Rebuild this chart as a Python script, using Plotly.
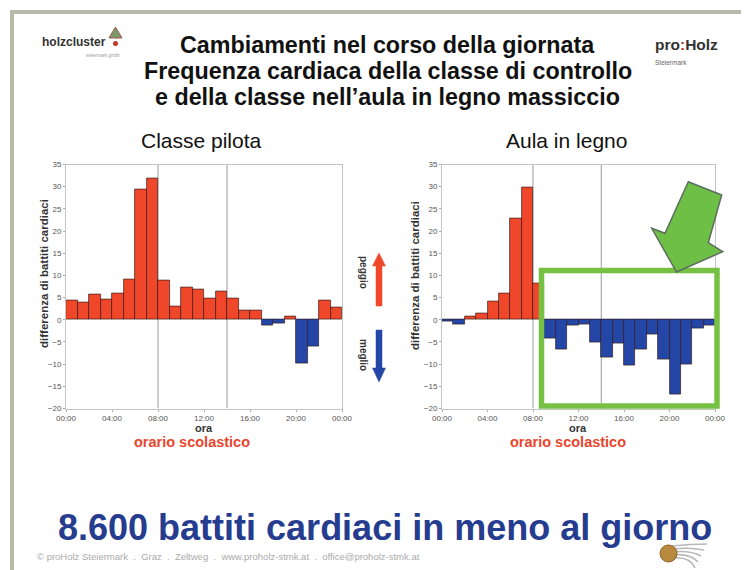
import plotly.graph_objects as go

# The page body has an 8px margin, so the figure is sized to fit inside it
OFF = 8
W, H = 749 - OFF, 570 - OFF

hours = list(range(24))
pilota = [4.3, 3.9, 5.7, 4.6, 6.0, 9.1, 29.3, 31.8, 8.8, 3.0, 7.2, 6.9,
          4.8, 6.3, 4.9, 2.0, 2.0, -1.3, -0.8, 0.7, -9.9, -6.0, 4.3, 2.7]
legno = [-0.4, -1.1, 0.8, 1.5, 4.2, 6.0, 22.9, 29.8, 8.2, -4.3, -6.8, -1.3,
         -1.0, -5.1, -8.5, -5.4, -10.3, -6.8, -3.3, -9.0, -16.9, -10.0, -1.9, -1.3]
tick_vals = [0, 4, 8, 12, 16, 20, 24]
tick_text = ["00:00", "04:00", "08:00", "12:00", "16:00", "20:00", "00:00"]
y_ticks = [-20, -15, -10, -5, 0, 5, 10, 15, 20, 25, 30, 35]
school_lines = [8, 14]

RED = "#f0462a"
BLUE = "#2446a6"
GREEN = "#76c043"


def px(x):
    return (x - OFF) / W


def py(y):
    return 1 - (y - OFF) / H


def colors(vals):
    return [RED if v >= 0 else BLUE for v in vals]


fig = go.Figure()
for vals, xa, ya in [(pilota, "x", "y"), (legno, "x2", "y2")]:
    fig.add_trace(go.Bar(
        x=[h + 0.5 for h in hours], y=vals, width=1,
        marker=dict(color=colors(vals), line=dict(color="rgba(50,25,25,0.85)", width=0.8)),
        xaxis=xa, yaxis=ya, showlegend=False, hoverinfo="skip"))

axis_common = dict(range=[0, 24], tickvals=tick_vals, ticktext=tick_text, automargin=False,
                   showgrid=False, zeroline=False, showline=True, linecolor="#c4c4c4",
                   mirror=True, ticks="outside", ticklen=2, tickcolor="#aaa",
                   tickfont=dict(family="Liberation Sans", size=8, color="#555"))
yaxis_common = dict(range=[-20, 35], tickvals=y_ticks, showgrid=False, zeroline=False,
                    showline=True, linecolor="#c4c4c4", mirror=True, ticks="outside",
                    ticklen=2, tickcolor="#aaa", automargin=False,
                    tickfont=dict(family="Liberation Sans", size=8, color="#555"))

y_dom = [py(408.5), py(164.5)]
fig.update_layout(
    template="none",
    width=W, height=H, margin=dict(l=0, r=0, t=0, b=0, autoexpand=False),
    paper_bgcolor="white", plot_bgcolor="white", bargap=0,
    xaxis=dict(domain=[px(66), px(342)], anchor="y", **axis_common),
    yaxis=dict(domain=y_dom, anchor="x", **yaxis_common),
    xaxis2=dict(domain=[px(442), px(715)], anchor="y2", **axis_common),
    yaxis2=dict(domain=y_dom, anchor="x2", **yaxis_common),
)

shapes = []
# school-hour vertical lines
for xr, yr in [("x", "y"), ("x2", "y2")]:
    for h in school_lines:
        shapes.append(dict(type="line", xref=xr, yref=yr, x0=h, x1=h, y0=-20, y1=35,
                           line=dict(color="#999", width=1), layer="below"))

# slide frame
shapes.append(dict(type="line", xref="paper", yref="paper", x0=px(10), x1=1,
                   y0=py(12), y1=py(12), line=dict(color="#b9b9aa", width=4)))
shapes.append(dict(type="line", xref="paper", yref="paper", x0=px(12), x1=px(12),
                   y0=py(10), y1=0, line=dict(color="#b9b9aa", width=4)))

# green box
shapes.append(dict(type="rect", xref="paper", yref="paper", x0=px(541.5), x1=px(717),
                   y0=py(406), y1=py(270.5), line=dict(color=GREEN, width=5.5)))
# green arrow
arrow_pts = [(676.5, 272), (722.7, 251.7), (708.3, 242.7), (721.7, 195),
             (688.3, 181.7), (665, 233.3), (651.7, 228.3)]
path = "M " + " L ".join(f"{px(a):.5f},{py(b):.5f}" for a, b in arrow_pts) + " Z"
shapes.append(dict(type="path", xref="paper", yref="paper", path=path,
                   fillcolor="#6dbf45", line=dict(color="#5d6e5e", width=1.5)))


def v_arrow(xc, y_tail, y_base, y_tip, color):
    sw, hw = 3, 6.5
    pts = [(xc - sw, y_tail), (xc - sw, y_base), (xc - hw, y_base), (xc, y_tip),
           (xc + hw, y_base), (xc + sw, y_base), (xc + sw, y_tail)]
    p = "M " + " L ".join(f"{px(a):.5f},{py(b):.5f}" for a, b in pts) + " Z"
    return dict(type="path", xref="paper", yref="paper", path=p,
                fillcolor=color, line=dict(color=color, width=0.5))


shapes.append(v_arrow(379, 306, 266, 253, RED))
shapes.append(v_arrow(379, 330, 368, 382, BLUE))

# holzcluster tree icon
tree = [(115.5, 27), (109, 38), (122, 38)]
shapes.append(dict(type="path", xref="paper", yref="paper",
                   path="M " + " L ".join(f"{px(a):.5f},{py(b):.5f}" for a, b in tree) + " Z",
                   fillcolor="#7a9a6a", line=dict(color="#a0584a", width=1)))
shapes.append(dict(type="circle", xref="paper", yref="paper", x0=px(113), x1=px(118),
                   y0=py(46), y1=py(41), fillcolor="#c0392b", line=dict(width=0)))

# bottom-right logo: gray swoosh lines then gold ball
for i in range(5):
    y_start = 546 + i * 3
    shapes.append(dict(type="path", xref="paper", yref="paper",
                       path=f"M {px(672):.5f},{py(y_start):.5f} Q {px(690):.5f},{py(y_start - 2):.5f} "
                            f"{px(707 - i * 3):.5f},{py(544 + i * 6):.5f}",
                       line=dict(color="#b8b8b8", width=1.6)))
shapes.append(dict(type="circle", xref="paper", yref="paper", x0=px(660), x1=px(677),
                   y0=py(562), y1=py(545), fillcolor="#b98a3e", line=dict(color="#8a6424", width=1)))

fig.update_layout(shapes=shapes)

ann = []


def txt(x, y, s, size, color="#111", bold=False, angle=0, xanchor="center", family="Liberation Sans"):
    if bold:
        s = f"<b>{s}</b>"
    ann.append(dict(x=px(x), y=py(y), xref="paper", yref="paper", text=s, showarrow=False,
                    xanchor=xanchor, yanchor="middle", textangle=angle,
                    font=dict(family=family, size=size, color=color)))


txt(388, 45, "Cambiamenti nel corso della giornata", 23.3, bold=True)
txt(388, 71, "Frequenza cardiaca della classe di controllo", 23.3, bold=True)
txt(388, 97, "e della classe nell’aula in legno massiccio", 23.3, bold=True)

txt(201, 141, "Classe pilota", 21)
txt(566, 141, "Aula in legno", 21)

txt(44, 274, "differenza di battiti cardiaci", 11.5, color="#333", bold=True, angle=-90)
txt(415, 276, "differenza di battiti cardiaci", 11.5, color="#333", bold=True, angle=-90)

txt(204, 428, "ora", 11, color="#333", bold=True)
txt(578, 428, "ora", 11, color="#333", bold=True)
txt(192, 442, "orario scolastico", 14.5, color="#e8452c", bold=True)
txt(568, 442, "orario scolastico", 14.5, color="#e8452c", bold=True)

txt(364, 272, "peggio", 10, color="#333", bold=True, angle=90)
txt(364, 355, "meglio", 10, color="#333", bold=True, angle=90)

txt(385, 527, "8.600 battiti cardiaci in meno al giorno", 36, color="#263c8f", bold=True)
txt(35, 556, "© proHolz Steiermark  .  Graz  .  Zeltweg  .  www.proholz-stmk.at  .  office@proholz-stmk.at",
    9.5, color="#aaaaaa", xanchor="left")

txt(74, 42, "holzcluster", 12, color="#333", bold=True)
txt(103, 55, "steiermark gmbh", 4.5, color="#999")
txt(653, 44, "pro<span style='color:#c0392b'>:</span>Holz", 15.5, color="#333", bold=True, xanchor="left")
txt(653, 63, "Steiermark", 6.5, color="#666", xanchor="left")

fig.update_layout(annotations=ann)

fig.write_html("out.html")
